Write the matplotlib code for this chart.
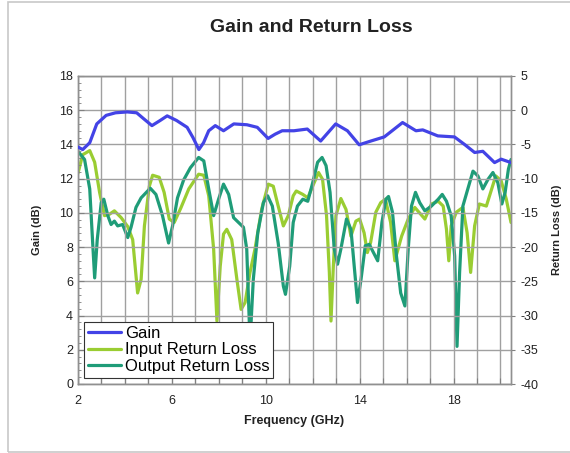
import matplotlib
matplotlib.use("Agg")
import matplotlib.pyplot as plt
from matplotlib.patches import Rectangle
from matplotlib.ticker import MultipleLocator

plt.rcParams['font.family'] = ['Liberation Sans', 'DejaVu Sans']
plt.rcParams['axes.unicode_minus'] = False

# Gain (left axis, dB)
gain_freq = [2.0, 2.2, 2.5, 2.8, 3.2, 3.6, 4.1, 4.5, 4.8, 5.15, 5.5, 5.8, 6.2, 6.65, 6.9,
             7.15, 7.35, 7.57, 7.85, 8.2, 8.64, 9.2, 9.64, 10.1, 10.4, 10.7, 11.2, 11.77,
             12.34, 12.98, 13.48, 13.98, 14.48, 15.05, 15.83, 16.4, 16.69, 17.33, 18.04,
             18.47, 18.9, 19.25, 19.75, 20.03, 20.45]
gain_db = [13.85, 13.7, 14.1, 15.2, 15.7, 15.85, 15.9, 15.85, 15.5, 15.1, 15.4, 15.67, 15.4,
           15.0, 14.4, 13.7, 14.1, 14.8, 15.1, 14.8, 15.2, 15.15, 15.0, 14.35, 14.6, 14.8,
           14.8, 14.9, 14.2, 15.2, 14.8, 13.98, 14.2, 14.44, 15.28, 14.8, 14.85, 14.5,
           14.44, 14.0, 13.53, 13.6, 12.94, 13.14, 12.94]

# Input return loss (right axis, dB)
irl_freq = [2.0, 2.2, 2.5, 2.71, 2.92, 3.13, 3.34, 3.55, 3.84, 4.12, 4.33, 4.54, 4.69, 4.83,
            5.04, 5.18, 5.46, 5.67, 5.89, 6.1, 6.38, 6.72, 7.14, 7.36, 7.57, 7.78, 7.92,
            8.06, 8.2, 8.34, 8.55, 8.77, 8.95, 9.12, 9.33, 9.54, 9.83, 10.11, 10.32, 10.53,
            10.75, 10.96, 11.17, 11.3, 11.58, 11.79, 12.0, 12.25, 12.42, 12.59, 12.71,
            12.78, 12.88, 12.99, 13.2, 13.42, 13.63, 13.84, 14.0, 14.19, 14.33, 14.47,
            14.69, 14.9, 15.1, 15.32, 15.5, 15.79, 16.07, 16.35, 16.78, 17.06, 17.35,
            17.56, 17.7, 17.8, 17.9, 18.12, 18.4, 18.58, 18.73, 18.9, 19.1, 19.4, 19.6,
            19.8, 20.03, 20.25, 20.45]
irl_db = [-9.2, -6.5, -5.9, -7.6, -12.0, -15.4, -15.2, -14.7, -15.7, -17.0, -18.9, -26.7,
          -24.7, -16.9, -11.1, -9.5, -9.8, -12.0, -15.9, -16.4, -14.3, -11.5, -9.35, -9.5,
          -12.5, -20.3, -30.8, -22.8, -18.1, -17.4, -18.9, -24.7, -29.1, -28.1, -23.7,
          -20.3, -14.4, -10.8, -11.1, -14.0, -16.9, -15.4, -12.5, -11.8, -12.3, -12.8,
          -11.1, -9.1, -10.1, -15.4, -23.7, -30.8, -22.8, -15.4, -12.9, -14.5, -18.4,
          -16.2, -15.9, -17.9, -20.8, -19.3, -14.9, -13.5, -13.0, -16.4, -22.0, -18.4,
          -15.9, -14.2, -15.9, -13.7, -13.3, -14.0, -17.4, -22.0, -16.9, -14.9, -14.2,
          -17.9, -23.7, -16.9, -13.7, -14.0, -11.8, -9.6, -10.3, -13.0, -16.4]

# Output return loss (right axis, dB)
orl_freq = [2.0, 2.28, 2.5, 2.64, 2.71, 2.82, 2.99, 3.1, 3.27, 3.41, 3.55, 3.69, 3.9, 4.12,
            4.26, 4.47, 4.69, 5.08, 5.32, 5.6, 5.86, 6.03, 6.24, 6.5, 6.79, 7.14, 7.36,
            7.57, 7.78, 7.99, 8.2, 8.42, 8.63, 8.84, 9.05, 9.19, 9.33, 9.47, 9.66, 9.9,
            10.08, 10.28, 10.53, 10.75, 10.84, 11.02, 11.17, 11.35, 11.58, 11.79, 12.0,
            12.21, 12.4, 12.57, 12.74, 12.92, 13.06, 13.2, 13.44, 13.63, 13.77, 13.91,
            14.06, 14.24, 14.41, 14.62, 14.77, 14.95, 15.12, 15.23, 15.4, 15.57, 15.75,
            15.93, 16.07, 16.21, 16.38, 16.56, 16.78, 17.06, 17.35, 17.52, 17.7, 17.9,
            18.05, 18.15, 18.26, 18.4, 18.61, 18.83, 19.04, 19.25, 19.47, 19.68, 19.89,
            20.06, 20.2, 20.34, 20.45]
orl_db = [-6.0, -7.2, -11.5, -20.3, -24.5, -18.9, -13.5, -13.0, -15.4, -16.7, -16.2, -16.9,
          -16.7, -18.6, -17.1, -14.2, -12.8, -11.4, -12.3, -15.4, -19.4, -16.9, -12.8,
          -10.2, -8.4, -6.9, -7.4, -11.5, -15.4, -13.0, -10.8, -12.3, -15.7, -16.4, -17.1,
          -20.3, -34.0, -24.7, -17.9, -13.5, -12.5, -14.0, -19.4, -25.7, -26.9, -22.8,
          -16.4, -14.0, -13.0, -13.3, -10.6, -7.6, -6.9, -8.1, -12.0, -20.3, -22.5, -20.3,
          -15.9, -17.4, -22.8, -28.1, -24.7, -19.8, -19.6, -21.0, -22.0, -16.4, -13.0,
          -12.6, -14.9, -21.3, -26.7, -28.6, -20.3, -14.0, -12.0, -13.5, -14.7, -14.0,
          -13.0, -12.3, -13.3, -15.4, -21.3, -34.5, -23.7, -14.0, -11.5, -8.9, -9.6, -11.5,
          -10.1, -9.1, -10.6, -13.7, -12.0, -8.6, -7.2]

title = "Gain and Return Loss"
x_label = "Frequency (GHz)"
y_left_label = "Gain (dB)"
y_right_label = "Return Loss (dB)"
x_ticks = [2, 6, 10, 14, 18]
left_ticks = [0, 2, 4, 6, 8, 10, 12, 14, 16, 18]
right_ticks = [-40, -35, -30, -25, -20, -15, -10, -5, 0, 5]

W, H = 570, 453
fig = plt.figure(figsize=(W / 100, H / 100), dpi=100)
fig.patches.append(Rectangle((8 / W, 1.5 / H), 1.2, (449.5) / H, transform=fig.transFigure,
                             fill=False, edgecolor='#c8c8c8', linewidth=1.2))

ax = fig.add_axes([78 / W, 1 - 384 / H, (511 - 78) / W, (384 - 76) / H])
ax2 = ax.twinx()

ax.set_xlim(2, 20.45)
ax.set_ylim(0, 18)
ax2.set_ylim(-40, 5)

grid_c = '#a0a0a0'
ax.set_xticks(range(2, 21))
ax.set_xticklabels([str(t) if t in x_ticks else '' for t in range(2, 21)])
ax.set_yticks(left_ticks)
ax.yaxis.set_minor_locator(MultipleLocator(0.4))
ax2.set_yticks(right_ticks)
ax.grid(True, color=grid_c, linewidth=1.0)
ax.set_axisbelow(True)

for a in (ax, ax2):
    for s in a.spines.values():
        s.set_color('#909090')
        s.set_linewidth(1.0)
ax.tick_params(axis='both', which='major', direction='in', length=4, color='#808080',
               labelsize=9, labelcolor='#222222')
ax.tick_params(axis='y', which='minor', direction='in', length=2, color='#808080')
ax.tick_params(axis='x', pad=8)
ax2.tick_params(axis='y', direction='out', length=3, color='#808080', labelsize=9,
                labelcolor='#222222')

kw = dict(linewidth=2.3, solid_joinstyle='round', solid_capstyle='round')
ax.plot(gain_freq, gain_db, color='#4343e6', label='Gain', zorder=4, **kw)
ax2.plot(irl_freq, irl_db, color='#9acd32', label='Input Return Loss', zorder=3, **kw)
ax2.plot(orl_freq, orl_db, color='#1f9c78', label='Output Return Loss', zorder=3, **kw)

ax.set_zorder(ax2.get_zorder() + 1)
ax.patch.set_visible(False)

ax.set_xlabel(x_label, fontsize=9, fontweight='bold', color='#222222', labelpad=6)
ax.set_ylabel(y_left_label, fontsize=8, fontweight='bold', color='#222222', labelpad=12)
ax2.set_ylabel(y_right_label, fontsize=8, fontweight='bold', color='#222222', labelpad=10)
fig.text(311 / W, 1 - 28 / H, title, ha='center', va='center', fontsize=14,
         fontweight='bold', color='#222222')

h1, l1 = ax.get_legend_handles_labels()
h2, l2 = ax2.get_legend_handles_labels()
leg = ax.legend(h1 + h2, l1 + l2, loc='lower left', bbox_to_anchor=(0.0, 0.0),
                fontsize=12, frameon=True, fancybox=False, framealpha=1,
                edgecolor='#333333', handlelength=2.0, handletextpad=0.2,
                labelspacing=0.1, borderpad=0.25, borderaxespad=0.35)
leg.get_frame().set_linewidth(0.8)
leg.set_zorder(10)

fig.savefig('out.png', dpi=100)
